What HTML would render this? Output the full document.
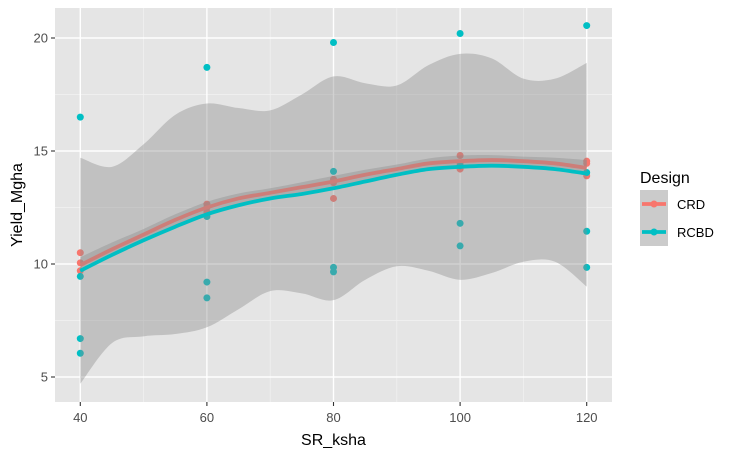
<!DOCTYPE html>
<html><head><meta charset="utf-8"><style>
body{margin:0;background:#fff;}
svg{display:block;font-family:"Liberation Sans",Arial,sans-serif;}
</style></head><body>
<svg id="chart" width="737" height="455"></svg>
<script>
const xTicks=[40,60,80,100,120];
const yTicks=[5,10,15,20];
const crdX=[40,40,40,60,60,60,80,80,80,100,100,100,120,120,120];
const crdY=[10.5,10.05,9.7,12.65,12.5,12.3,13.75,13.6,12.9,14.8,14.45,14.2,14.55,14.45,13.9];
const rcbdX=[40,40,40,40,60,60,60,60,80,80,80,80,100,100,100,100,120,120,120,120];
const rcbdY=[16.5,9.45,6.7,6.05,18.7,12.1,9.2,8.5,19.8,14.1,9.85,9.65,20.2,14.35,11.8,10.8,20.55,14.05,11.45,9.85];
const smoothX=[40,45,50,55,60,65,70,75,80,85,90,95,100,105,110,115,120];
const crdFit=[9.95,10.65,11.3,11.95,12.5,12.9,13.15,13.4,13.65,13.95,14.2,14.45,14.55,14.6,14.55,14.45,14.25];
const crdSe=[0.35,0.3,0.25,0.25,0.25,0.22,0.2,0.22,0.25,0.22,0.2,0.22,0.25,0.22,0.2,0.25,0.35];
const rcbdFit=[9.7,10.4,11.05,11.65,12.2,12.6,12.9,13.1,13.35,13.65,13.95,14.2,14.3,14.35,14.3,14.2,14.0];
const rcbdUpper=[14.7,14.3,15.3,16.6,17.1,16.9,16.8,17.5,18.3,18.0,17.9,18.8,19.3,19.1,18.2,18.2,18.9];
const rcbdLower=[4.7,6.5,6.8,6.9,7.2,8.0,8.8,8.7,8.4,9.3,9.9,9.7,9.3,9.6,10.1,10.1,9.0];

const L=55,R=612,T=8,B=402;
const xs=v=>80.3+(v-40)*(586.7-80.3)/80;
const ys=v=>264-(v-10)*22.6;
const NS="http://www.w3.org/2000/svg";
const svg=document.getElementById('chart');
function mk(tag,attrs,parent){const e=document.createElementNS(NS,tag);for(const k in attrs)e.setAttribute(k,attrs[k]);(parent||svg).appendChild(e);return e;}
function curve(pts){let d=`M${pts[0][0]},${pts[0][1]}`;for(let i=0;i<pts.length-1;i++){const p0=pts[Math.max(i-1,0)],p1=pts[i],p2=pts[i+1],p3=pts[Math.min(i+2,pts.length-1)];d+=` C${p1[0]+(p2[0]-p0[0])/6},${p1[1]+(p2[1]-p0[1])/6} ${p2[0]-(p3[0]-p1[0])/6},${p2[1]-(p3[1]-p1[1])/6} ${p2[0]},${p2[1]}`;}return d;}

let e=mk('rect',{x:L,y:T,width:R-L,height:B-T,fill:'#e5e5e5'});

[50,70,90,110].forEach(v=>{mk('line',{x1:xs(v),x2:xs(v),y1:T,y2:B,stroke:'#f2f2f2','stroke-width':0.7});});
[7.5,12.5,17.5].forEach(v=>{mk('line',{x1:L,x2:R,y1:ys(v),y2:ys(v),stroke:'#f2f2f2','stroke-width':0.7});});
xTicks.forEach(v=>{mk('line',{x1:xs(v),x2:xs(v),y1:T,y2:B,stroke:'#fff','stroke-width':1.4});
 mk('line',{x1:xs(v),x2:xs(v),y1:B,y2:B+4,stroke:'#333','stroke-width':1.1});
 const t=mk('text',{x:xs(v),y:B+20,'text-anchor':'middle','font-size':13,fill:'#4d4d4d'});t.textContent=v;
 });
yTicks.forEach(v=>{mk('line',{x1:L,x2:R,y1:ys(v),y2:ys(v),stroke:'#fff','stroke-width':1.4});
 mk('line',{x1:L-4,x2:L,y1:ys(v),y2:ys(v),stroke:'#333','stroke-width':1.1});
 const t=mk('text',{x:L-7,y:ys(v)+4.5,'text-anchor':'end','font-size':13,fill:'#4d4d4d'});t.textContent=v;
 });

crdX.forEach((x,i)=>{const c=mk('circle',{cx:xs(x),cy:ys(crdY[i]),r:3.5,fill:'#F8766D'});
 });
rcbdX.forEach((x,i)=>{const c=mk('circle',{cx:xs(x),cy:ys(rcbdY[i]),r:3.5,fill:'#00BFC4'});
 });

function ribbon(up,lo,name){const top=smoothX.map((x,i)=>[xs(x),ys(up[i])]);const bot=smoothX.map((x,i)=>[xs(x),ys(lo[i])]).reverse();
 const d=curve(top)+' L'+curve(bot).slice(1)+' Z';const p=mk('path',{d:d,fill:'#8c8c8c','fill-opacity':0.4});
 }
function line(fit,col,name){const p=mk('path',{d:curve(smoothX.map((x,i)=>[xs(x),ys(fit[i])])),fill:'none',stroke:col,'stroke-width':3.8});
 }
ribbon(crdFit.map((v,i)=>v+crdSe[i]),crdFit.map((v,i)=>v-crdSe[i]),'crd-ribbon');
line(crdFit,'#F8766D','crd-smooth-line');
ribbon(rcbdUpper,rcbdLower,'rcbd-ribbon');
line(rcbdFit,'#00BFC4','rcbd-smooth-line');

let t=mk('text',{x:(L+R)/2,y:445,'text-anchor':'middle','font-size':16,fill:'#000'});t.textContent='SR_ksha';

t=mk('text',{x:0,y:0,'text-anchor':'middle','font-size':16,fill:'#000',transform:`translate(22,${(T+B)/2}) rotate(-90)`});t.textContent='Yield_Mgha';

t=mk('text',{x:640,y:183,'font-size':16,fill:'#000'});t.textContent='Design';

[['CRD','#F8766D',190],['RCBD','#00BFC4',218]].forEach(([lab,col,y])=>{
 const g=mk('g',{});
 mk('rect',{x:640,y:y,width:28,height:28,fill:'#8c8c8c','fill-opacity':0.45},g);
 mk('line',{x1:642,x2:666,y1:y+14,y2:y+14,stroke:col,'stroke-width':3.8},g);
 mk('circle',{cx:654,cy:y+14,r:3.5,fill:col},g);
 const tt=mk('text',{x:677,y:y+19,'font-size':13,fill:'#000'},g);tt.textContent=lab;});
</script>
</body></html>
